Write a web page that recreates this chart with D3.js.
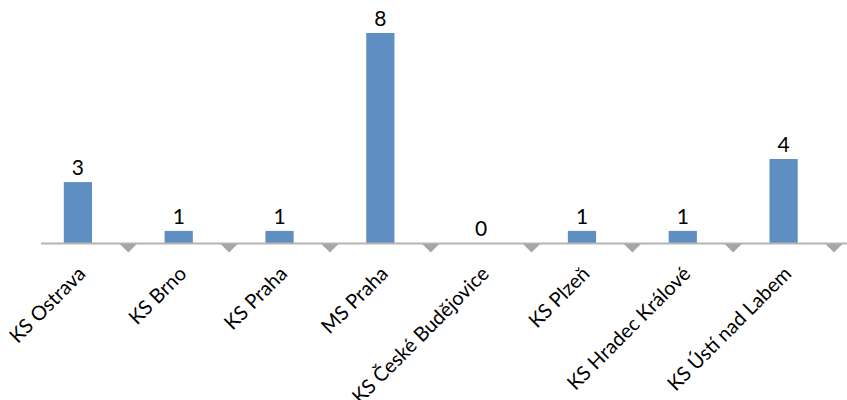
<!DOCTYPE html>
<html>
<head>
<meta charset="utf-8">
<script src="https://cdn.jsdelivr.net/npm/d3@7"></script>
<style>
  html, body { margin: 0; padding: 0; background: #ffffff; }
  svg { display: block; }
  text { font-family: Lato, "Open Sans", sans-serif; fill: #000; }
</style>
</head>
<body>
<svg id="chart" width="847" height="400"></svg>
<script>
// ---- data ----
const categories = ["KS Ostrava", "KS Brno", "KS Praha", "MS Praha", "KS České Budějovice", "KS Plzeň", "KS Hradec Králové", "KS Ústí nad Labem"];
const labelValues = [3, 1, 1, 8, 0, 1, 1, 4];          // data labels shown above bars
const barHeights = [2.32, 0.46, 0.46, 8, 0, 0.46, 0.46, 3.2]; // bar heights as drawn
const yMax = 8;

// ---- layout ----
const W = 847, H = 400;
const axisY = 243, topY = 33;
const svg = d3.select("#chart");

const x = d3.scaleBand()
  .domain(categories)
  .range([27.5, 834])
  .paddingInner(0.72)
  .paddingOuter(0.36);

const y = d3.scaleLinear().domain([0, yMax]).range([axisY, topY]);

// bars
svg.append("g").selectAll("rect")
  .data(categories)
  .join("rect")
  .attr("x", d => x(d))
  .attr("width", x.bandwidth())
  .attr("y", (d, i) => y(barHeights[i]))
  .attr("height", (d, i) => y(0) - y(barHeights[i]))
  .attr("fill", "#5f8ec2");

// axis line
svg.append("line")
  .attr("x1", 41).attr("x2", W)
  .attr("y1", axisY + 0.5).attr("y2", axisY + 0.5)
  .attr("stroke", "#b4b4b4").attr("stroke-width", 2);

// triangle tick marks at category boundaries
const step = x.step();
svg.append("g").selectAll("path")
  .data(categories)
  .join("path")
  .attr("d", d => {
    const bx = x(d) + x.bandwidth() / 2 + step / 2;
    const t = axisY + 1;
    return `M${bx - 8.5},${t} L${bx + 8.5},${t} L${bx},${t + 8.5} Z`;
  })
  .attr("fill", "#a6a6a6");

// value labels
svg.append("g").selectAll("text")
  .data(categories)
  .join("text")
  .attr("x", d => x(d) + x.bandwidth() / 2)
  .attr("y", (d, i) => y(barHeights[i]) - 7)
  .attr("text-anchor", "middle")
  .attr("font-size", 21)
  .text((d, i) => labelValues[i]);

// category labels (rotated)
svg.append("g").selectAll("text")
  .data(categories)
  .join("text")
  .attr("text-anchor", "end")
  .attr("font-size", 20)
  .attr("transform", d => `translate(${x(d) + x.bandwidth() / 2 + 9},${axisY + 32}) rotate(-45)`)
  .text(d => d);
</script>
</body>
</html>
